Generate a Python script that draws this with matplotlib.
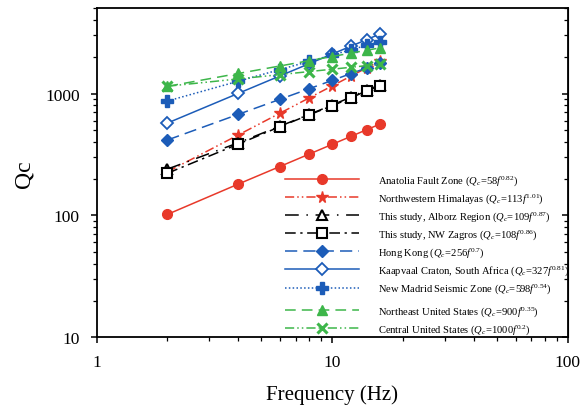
import matplotlib
matplotlib.use("Agg")
import matplotlib.pyplot as plt
from matplotlib.ticker import LogLocator, NullFormatter, FixedLocator, FixedFormatter

plt.rcParams["font.family"] = "Liberation Serif"
plt.rcParams["mathtext.fontset"] = "custom"
plt.rcParams["mathtext.rm"] = "Liberation Serif"
plt.rcParams["mathtext.it"] = "Liberation Serif:italic"

RED = "#e8392a"
BLUE = "#1c5cb8"
GREEN = "#3db64a"
BLACK = "black"

freq = [2, 4, 6, 8, 10, 12, 14, 16]

anatolia = [102, 181, 252, 319, 383, 445, 505, 563]
himalayas = [228, 458, 690, 923, 1156, 1390, 1625, 1859]
alborz = [240, 395, 540, 675, 805, 935, 1070, 1180]
zagros = [222, 385, 535, 670, 795, 920, 1055, 1155]
hong_kong = [416, 676, 897, 1097, 1283, 1458, 1624, 1783]
kaapvaal = [573, 1005, 1396, 1762, 2111, 2447, 2773, 3090]
new_madrid = [869, 1264, 1574, 1838, 2073, 2288, 2487, 2673]
northeast_us = [1147, 1463, 1685, 1864, 2015, 2148, 2267, 2375]
central_us = [1149, 1320, 1431, 1516, 1585, 1644, 1695, 1741]


def qlabel(name, q0, n):
    return name + r" ($Q_c\!=\!\mathit{" + q0 + r"}f^{\mathit{" + n + r"}}$)"


fig = plt.figure(figsize=(5.8, 4.1), dpi=100)
ax = fig.add_axes([0.1664, 0.175, 0.8126, 0.802])

lw = 1.1
ms = 7
series = [
    (anatolia, qlabel("Anatolia Fault Zone", "58", "0.82"),
     dict(color=RED, ls="-", marker="o", mfc=RED)),
    (himalayas, qlabel("Northwestern Himalayas", "113", "1.01"),
     dict(color=RED, ls=(0, (6, 2, 1, 2, 1, 2)), marker="*", mfc=RED, ms=8.5)),
    (alborz, qlabel("This study, Alborz Region", "109", "0.87"),
     dict(color=BLACK, ls=(0, (9, 5, 1, 5)), marker="^", mfc="white",
          mew=1.5)),
    (zagros, qlabel("This study, NW Zagros", "108", "0.86"),
     dict(color=BLACK, ls=(0, (7, 3, 1.5, 3)), marker="s", mfc="white",
          mew=1.5, ms=6.5)),
    (hong_kong, qlabel("Hong Kong", "256", "0.7"),
     dict(color=BLUE, ls=(0, (8, 4)), marker="D", mfc=BLUE, ms=6.3)),
    (kaapvaal, qlabel("Kaapvaal Craton, South Africa", "327", "0.81"),
     dict(color=BLUE, ls="-", marker="D", mfc="white", ms=6.3, mew=1.3)),
    (new_madrid, qlabel("New Madrid Seismic Zone", "598", "0.54"),
     dict(color=BLUE, ls=(0, (1, 1.5)), marker="P", mfc=BLUE, ms=8)),
    (northeast_us, qlabel("Northeast United States", "900", "0.35"),
     dict(color=GREEN, ls=(0, (7, 4)), marker="^", mfc=GREEN, ms=7.5)),
    (central_us, qlabel("Central United States", "1000", "0.2"),
     dict(color=GREEN, ls=(0, (6, 2, 1, 2, 1, 2)), marker="x", mew=2.2,
          ms=7)),
]

handles = []
for values, label, style in series:
    style.setdefault("ms", ms)
    h, = ax.plot(freq, values, lw=lw, label=label, **style)
    handles.append(h)

ax.set_xscale("log")
ax.set_yscale("log")
ax.set_xlim(1, 100)
ax.set_ylim(10, 5000)

ax.xaxis.set_major_locator(FixedLocator([1, 10, 100]))
ax.xaxis.set_major_formatter(FixedFormatter(["1", "10", "100"]))
ax.yaxis.set_major_locator(FixedLocator([10, 100, 1000]))
ax.yaxis.set_major_formatter(FixedFormatter(["10", "100", "1000"]))
for axis in (ax.xaxis, ax.yaxis):
    axis.set_minor_locator(LogLocator(base=10, subs=range(2, 10)))
    axis.set_minor_formatter(NullFormatter())
ax.tick_params(which="major", direction="out", length=4, width=1.1,
               labelsize=12.5, pad=8)
ax.tick_params(which="minor", direction="out", length=3, width=0.9)
for sp in ax.spines.values():
    sp.set_linewidth(1.3)

# mirrored inward ticks on the right edge
right = ax.secondary_yaxis("right")
right.yaxis.set_major_locator(FixedLocator([10, 100, 1000]))
right.yaxis.set_minor_locator(LogLocator(base=10, subs=range(2, 10)))
right.yaxis.set_major_formatter(NullFormatter())
right.yaxis.set_minor_formatter(NullFormatter())
right.tick_params(which="major", direction="in", length=4, width=1.1)
right.tick_params(which="minor", direction="in", length=3, width=0.9)

ax.set_xlabel("Frequency (Hz)", fontsize=15, labelpad=10)
ax.set_ylabel("Qc", fontsize=17, labelpad=8)

leg_kw = dict(frameon=False, fontsize=7.6, handlelength=7.0,
              handletextpad=1.8, numpoints=1, borderpad=0,
              borderaxespad=0, labelspacing=0.40, loc="upper left")
leg1 = ax.legend(handles=handles[:7], bbox_to_anchor=(0.40, 0.50), **leg_kw)
ax.add_artist(leg1)
ax.legend(handles=handles[7:], bbox_to_anchor=(0.40, 0.10), **leg_kw)

fig.savefig("out.png", dpi=100)
